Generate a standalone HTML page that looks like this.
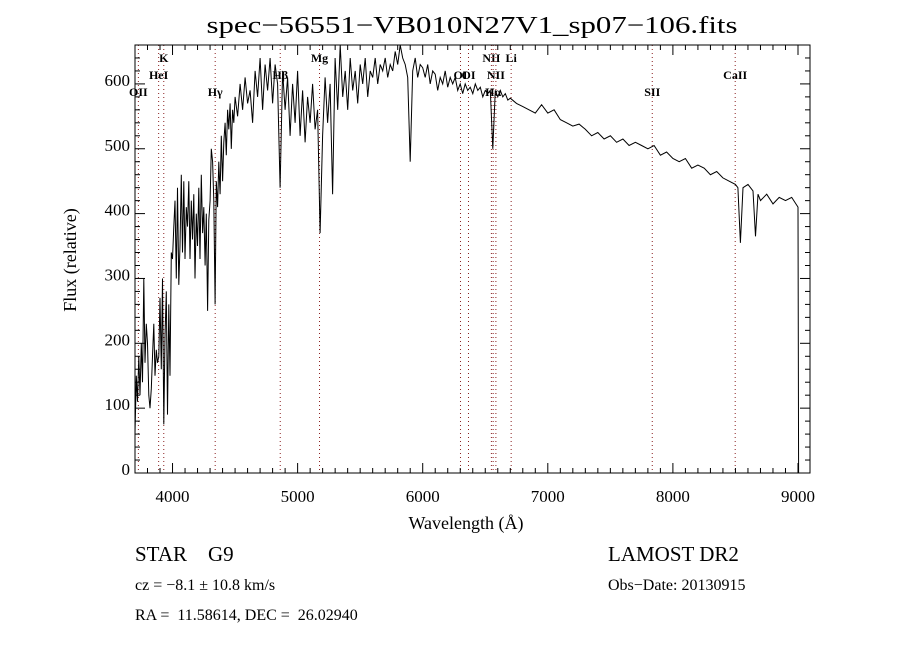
<!DOCTYPE html>
<html><head><meta charset="utf-8"><style>
html,body{margin:0;padding:0;background:#fff;}
svg{display:block;font-family:"Liberation Serif",serif;}
</style></head><body>
<svg id="chart" width="900" height="650" viewBox="0 0 900 650">
<text x="472" y="33" text-anchor="middle" font-size="24" textLength="531" lengthAdjust="spacingAndGlyphs">spec−56551−VB010N27V1_sp07−106.fits</text>
<g id="lines"></g>
<g id="ticks"></g>
<path id="spec" fill="none" stroke="#000" stroke-width="1"/>
<rect x="135" y="45" width="675" height="428" fill="none" stroke="#000" stroke-width="1"/>
<text x="466" y="529" text-anchor="middle" font-size="18">Wavelength (Å)</text>
<text transform="translate(76,260) rotate(-90)" text-anchor="middle" font-size="18">Flux (relative)</text>
<text x="135" y="561" font-size="21" xml:space="preserve">STAR    G9</text>
<text x="608" y="561" font-size="21">LAMOST DR2</text>
<text x="135" y="590" font-size="16">cz = −8.1 ± 10.8 km/s</text>
<text x="608" y="590" font-size="16">Obs−Date: 20130915</text>
<text x="135" y="620" font-size="16" xml:space="preserve">RA =  11.58614, DEC =  26.02940</text>
</svg>
<script>
const wave1=[3700,3710,3720,3730,3740,3750,3760,3770,3780,3790,3800,3810,3820,3830,3840,3850,3860,3870,3880,3890,3900,3910,3920,3930,3940,3950,3960,3970,3980,3990,4000,4010,4020,4030,4040,4050,4060,4070,4080,4090,4100,4110,4120,4130,4140,4150,4160,4170,4180,4190,4200,4210,4220,4230,4240,4250,4260,4270,4280,4290,4300,4310,4320,4330,4340,4350,4360,4370,4380,4390,4400,4410,4420,4430,4440,4450,4460,4470,4480,4490,4500];
const flux1=[60,150,110,180,120,200,140,300,170,230,200,120,100,130,180,230,150,190,170,180,270,160,300,75,210,280,90,260,150,340,330,380,420,300,440,290,350,460,340,450,330,410,380,450,330,420,360,430,300,400,350,440,330,460,370,410,320,400,250,390,420,500,480,420,260,450,410,480,430,520,450,510,540,490,560,530,570,500,560,540,580];
const wave2=[4520,4540,4560,4580,4600,4620,4640,4660,4680,4700,4720,4740,4760,4780,4800,4820,4840,4860,4880,4900,4920,4940,4960,4980,5000,5020,5040,5060,5080,5100,5120,5140,5160,5180,5200,5220,5240,5260,5280,5300,5320,5340,5360,5380,5400,5420,5440,5460,5480,5500,5520,5540,5560,5580,5600,5620,5640,5660,5680,5700,5720,5740,5760,5780,5800,5820,5840,5860,5880,5900,5920,5940,5960,5980,6000,6020,6040,6060,6080,6100,6120,6140,6160,6180,6200,6220,6240,6260,6280,6300,6320,6340,6360,6380,6400,6420,6440,6460,6480,6500,6520,6540,6560,6580,6600,6620,6640,6660,6680,6700];
const flux2=[550,600,560,610,570,590,540,620,580,640,560,630,590,640,570,630,600,440,620,560,610,520,600,540,620,520,590,510,580,540,600,530,560,370,520,610,540,600,430,640,560,660,580,620,560,640,590,620,570,630,600,640,580,620,610,640,600,630,620,640,610,630,620,650,630,660,640,630,610,480,620,640,610,630,625,610,630,600,620,615,590,610,600,620,595,610,600,610,590,600,585,600,590,595,585,600,590,595,580,590,585,590,500,590,580,590,580,585,575,578];
const wave3=[6750,6800,6850,6900,6950,7000,7050,7100,7150,7200,7250,7300,7350,7400,7450,7500,7550,7600,7650,7700,7750,7800,7850,7900,7950,8000,8050,8100,8150,8200,8250,8300,8350,8400,8450,8500,8520,8540,8560,8600,8640,8660,8680,8700,8750,8800,8850,8900,8950,9000,9005];
const flux3=[570,565,560,555,568,555,560,545,540,535,538,530,520,525,515,520,510,515,505,510,505,500,505,490,495,485,480,485,470,475,470,460,465,455,450,445,440,355,440,445,435,365,430,420,430,415,425,420,425,410,0];
const xTicks=[4000,5000,6000,7000,8000,9000];
const yTicks=[0,100,200,300,400,500,600];
const lineNames=["OII","HeI","K","Hγ","Hβ","Mg","OI","OI","NII","Hα","NII","Li","SII","CaII"];
const lineWaves=[3727,3889,3930,4341,4861,5175,6302,6366,6549,6563,6585,6707,7835,8498];
const labelRows=[2,1,0,2,1,0,1,1,0,2,1,0,2,1];

const NS="http://www.w3.org/2000/svg";
const X0=135,X1=810,Y0=473,Y1=45,WMIN=3700,WMAX=9096,FMIN=0,FMAX=660;
function xs(w){return X0+(w-WMIN)/(WMAX-WMIN)*(X1-X0);}
function ys(f){return Y0-(f-FMIN)/(FMAX-FMIN)*(Y0-Y1);}
function mk(tag,attrs,parent){const e=document.createElementNS(NS,tag);for(const k in attrs)e.setAttribute(k,attrs[k]);parent.appendChild(e);return e;}

const W=wave1.concat(wave2,wave3),F=flux1.concat(flux2,flux3);
let d="";
for(let i=0;i<W.length;i++){d+=(i?"L":"M")+xs(W[i]).toFixed(1)+","+ys(F[i]).toFixed(1);}
document.getElementById("spec").setAttribute("d",d);

const tg=document.getElementById("ticks");
for(let w=3800;w<=9000;w+=100){
  const major=w%1000===0,len=major?10:5,x=xs(w);
  const t1=mk("line",{x1:x,x2:x,y1:Y0,y2:Y0-len,stroke:"#000"},tg);
  
  
  const t2=mk("line",{x1:x,x2:x,y1:Y1,y2:Y1+len,stroke:"#000"},tg);
  
  
}
xTicks.forEach(v=>{
  const t=mk("text",{x:xs(v),y:502,"text-anchor":"middle","font-size":17},tg);
  t.textContent=v;
  
  
});
for(let f=0;f<=660;f+=20){
  const major=f%100===0,len=major?10:5,y=ys(f);
  const t1=mk("line",{x1:X0,x2:X0+len,y1:y,y2:y,stroke:"#000"},tg);
  
  
  const t2=mk("line",{x1:X1,x2:X1-len,y1:y,y2:y,stroke:"#000"},tg);
  
  
}
yTicks.forEach(v=>{
  const t=mk("text",{x:130,y:ys(v)+2,"text-anchor":"end","font-size":17},tg);
  t.textContent=v;
  
  
});

const lg=document.getElementById("lines");
lineWaves.forEach((w,i)=>{
  const x=xs(w);
  const l=mk("line",{x1:x,x2:x,y1:Y1,y2:Y0,stroke:"#8b2020","stroke-width":1,"stroke-dasharray":"1,3"},lg);
  
  
  const t=mk("text",{x:x,y:62+labelRows[i]*17,"text-anchor":"middle","font-size":12,"font-weight":"bold"},lg);
  t.textContent=lineNames[i];
  
  
});
</script>
</body></html>
